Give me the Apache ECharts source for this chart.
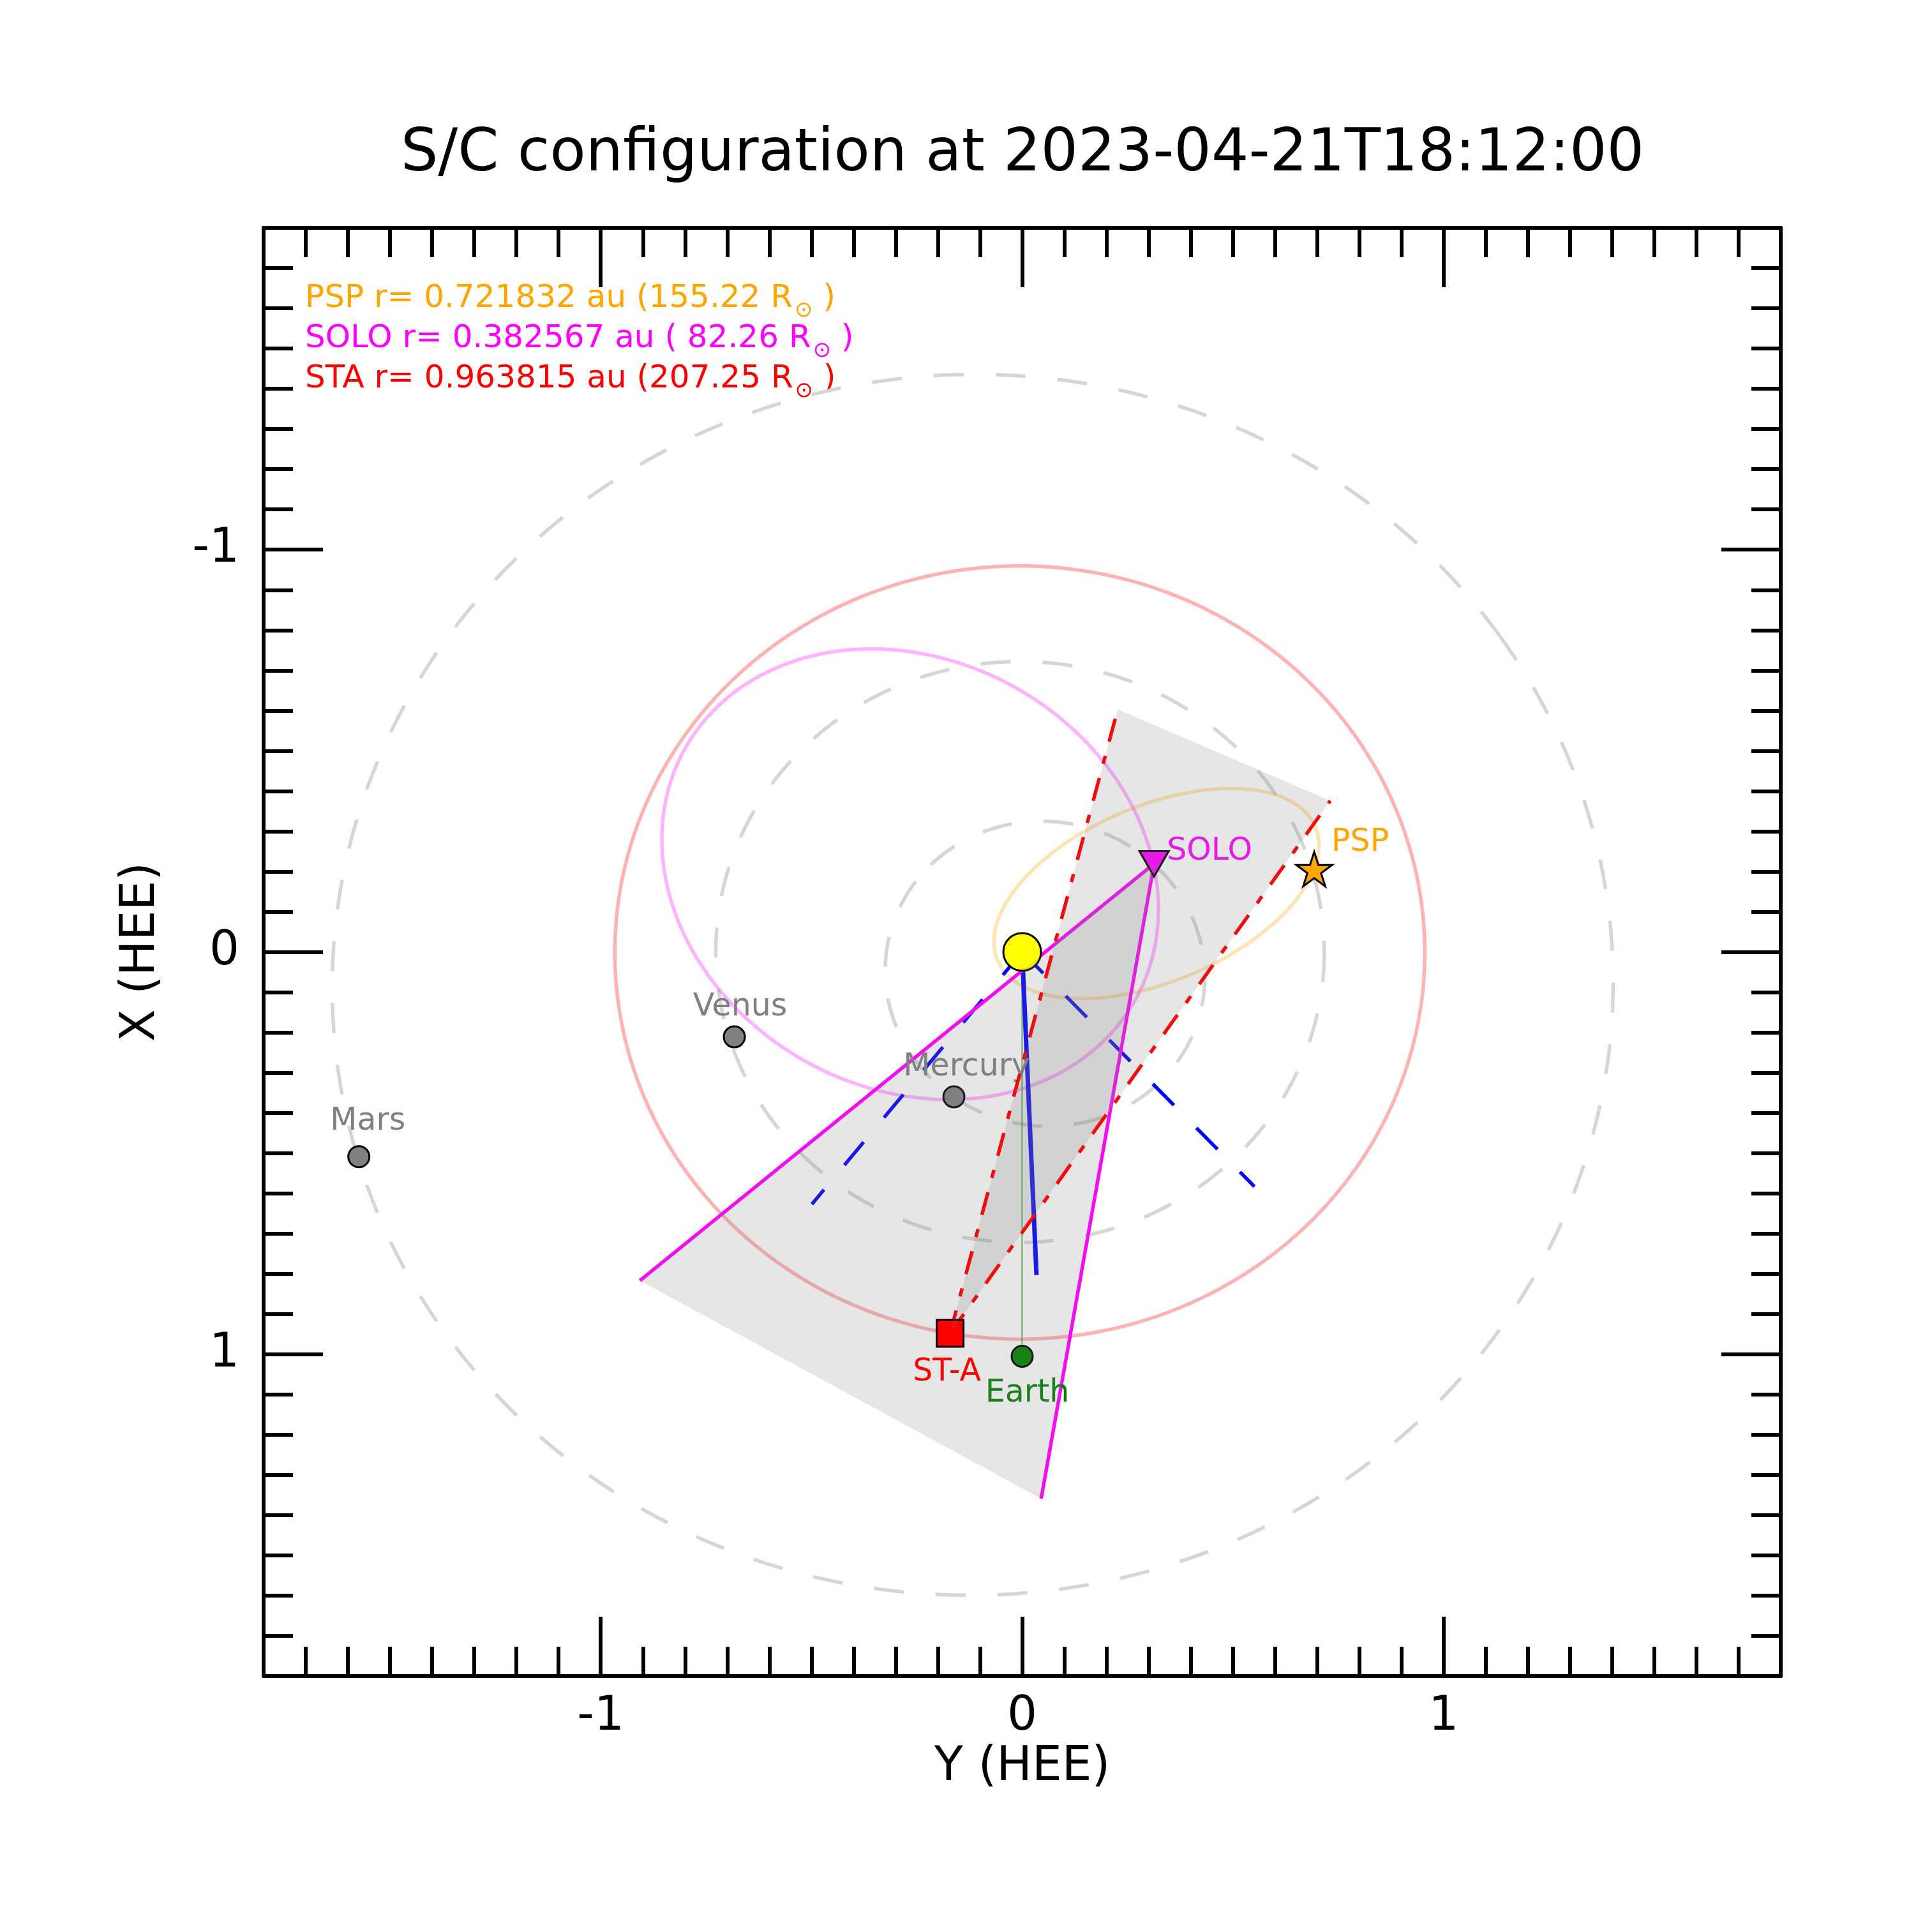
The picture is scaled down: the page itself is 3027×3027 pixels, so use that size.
<!DOCTYPE html>
<html>
<head>
<meta charset="utf-8">
<title>S/C configuration</title>
<script src="https://cdn.jsdelivr.net/npm/echarts@6/dist/echarts.min.js"></script>
<style>
  html, body { margin: 0; padding: 0; background: #fff; }
  #chart { width: 3027px; height: 3027px; }
</style>
</head>
<body>
<div id="chart"></div>
<script>
const FONT = 'DejaVu Sans';

// axes (HEE, au)
const AXIS_RANGE = [-1.8, 1.8];
const MAJOR_TICKS = [-1, 0, 1];
const MINOR_STEP = 0.1;

// orbits: semi-major axis (au), eccentricity, perihelion direction (deg in the Y-X plane)
const ORBIT_NAMES = ['Mercury', 'Venus', 'Mars', 'STA', 'SOLO', 'PSP'];
const ORBIT_A = [0.383, 0.722, 1.522, 0.961, 0.620, 0.412];
const ORBIT_E = [0.20, 0.007, 0.094, 0.006, 0.53, 0.85];
const ORBIT_PERI = [225, 0, -34.8, -15, 36, 155.5];

// bodies: Y (HEE) and X (HEE) in au
const BODY_NAMES = ['Sun', 'SOLO', 'PSP', 'ST-A', 'Earth', 'Venus', 'Mercury', 'Mars'];
const BODY_Y = [0, 0.313, 0.693, -0.171, 0, -0.683, -0.162, -1.574];
const BODY_X = [0, -0.219, -0.206, 0.948, 1.005, 0.211, 0.360, 0.509];

// field of view edges
const SOLO_FOV_Y = [-0.907, 0.045];
const SOLO_FOV_X = [0.817, 1.359];
const STA_FOV_Y = [0.227, 0.731];
const STA_FOV_X = [-0.603, -0.376];

// lines from the Sun
const SUN_LINE_END = [0.034, 0.803];
const SUN_DASH_Y = [-0.499, 0.551];
const SUN_DASH_X = [0.627, 0.583];

// info text
const INFO_NAMES = ['PSP', 'SOLO', 'STA'];
const INFO_AU = ['0.721832', '0.382567', '0.963815'];
const INFO_RSUN = ['155.22', ' 82.26', '207.25'];
const INFO_COLORS = ['#ffa500', '#ff00ff', '#ff0000'];

const LW = 5.5;
const DASH = [47, 50];
const DASH_DOT = [37, 23, 13, 23];

function pos(name) {
  const i = BODY_NAMES.indexOf(name);
  return [BODY_Y[i], BODY_X[i]];
}

function orbitPoints(a, e, periDeg) {
  const w = periDeg * Math.PI / 180;
  const b = a * Math.sqrt(1 - e * e);
  const cy = -a * e * Math.cos(w);
  const cx = -a * e * Math.sin(w);
  const pts = [];
  for (let i = 0; i <= 360; i += 1) {
    const t = i * Math.PI / 180;
    const u = a * Math.cos(t);
    const v = b * Math.sin(t);
    pts.push([cy + u * Math.cos(w) - v * Math.sin(w), cx + u * Math.sin(w) + v * Math.cos(w)]);
  }
  return pts;
}

const ORBIT_STYLE = {
  Mercury: { color: '#d6d6d6', type: DASH },
  Venus: { color: '#d6d6d6', type: DASH },
  Mars: { color: '#d6d6d6', type: DASH },
  STA: { color: 'rgba(255,0,0,0.3)', type: 'solid' },
  SOLO: { color: 'rgba(255,0,255,0.3)', type: 'solid' },
  PSP: { color: 'rgba(255,165,0,0.3)', type: 'solid' },
};

const STAR_PATH = 'path://M0,-1 L0.2245,-0.309 L0.951,-0.309 L0.363,0.118 L0.588,0.809 L0,0.382 L-0.588,0.809 L-0.363,0.118 L-0.951,-0.309 L-0.2245,-0.309 Z';

const BODY_STYLE = {
  Sun: { symbol: 'circle', size: 59, color: '#ffff00', z: 3 },
  SOLO: { symbol: 'triangle', size: [46, 40], rotate: 180, color: '#ff00ff', z: 3,
    label: { color: '#ff00ff', align: 'left', offset: [20, -19] } },
  PSP: { symbol: STAR_PATH, size: [56, 54], color: '#ffa500', z: 3,
    label: { color: '#ffa500', align: 'left', offset: [27, -41] } },
  'ST-A': { symbol: 'rect', size: 42, color: '#ff0000', z: 5,
    label: { color: '#ff0000', align: 'center', offset: [-5, 61] } },
  Earth: { symbol: 'circle', size: 33, color: '#008000', z: 3,
    label: { color: '#008000', align: 'center', offset: [8, 58] } },
  Venus: { symbol: 'circle', size: 33, color: '#808080', z: 3,
    label: { color: '#808080', align: 'center', offset: [9, -46] } },
  Mercury: { symbol: 'circle', size: 33, color: '#808080', z: 3,
    label: { color: '#808080', align: 'center', offset: [20, -46] } },
  Mars: { symbol: 'circle', size: 33, color: '#808080', z: 3,
    label: { color: '#808080', align: 'center', offset: [14, -55] } },
};

function segment(from, to, color, width, type, z) {
  return {
    type: 'line',
    data: [from, to],
    showSymbol: false,
    symbol: 'none',
    silent: true,
    z: z || 2,
    lineStyle: { color, width, type },
  };
}

function fovPolygon(apex, ys, xs, z) {
  return {
    type: 'custom',
    z,
    silent: true,
    data: [[apex[0], apex[1], ys[0], xs[0], ys[1], xs[1]]],
    encode: { x: [0, 2, 4], y: [1, 3, 5] },
    renderItem: (params, api) => {
      const points = [0, 2, 4].map((k) => api.coord([api.value(k), api.value(k + 1)]));
      return {
        type: 'polygon',
        shape: { points },
        style: { fill: 'rgba(128,128,128,0.2)' },
      };
    },
  };
}

function makeAxis(dim, position, major, withLabels) {
  const axis = {
    type: 'value',
    position,
    min: AXIS_RANGE[0],
    max: AXIS_RANGE[1],
    splitLine: { show: false },
    axisLine: { show: !major, onZero: false, lineStyle: { color: '#000', width: 6 } },
    axisTick: {
      show: true,
      inside: true,
      length: major ? 93 : 46,
      lineStyle: { color: '#000', width: 6 },
    },
    axisLabel: { show: false },
  };
  if (dim === 'y') axis.inverse = true;
  if (major) {
    axis.axisTick.customValues = MAJOR_TICKS;
  } else {
    axis.interval = MINOR_STEP;
  }
  if (withLabels) {
    axis.axisLabel = {
      show: true,
      customValues: MAJOR_TICKS,
      fontSize: 74,
      fontFamily: FONT,
      color: '#000',
      margin: dim === 'x' ? 28 : 38,
      formatter: (v) => String(v),
    };
    axis.name = dim === 'x' ? 'Y (HEE)' : 'X (HEE)';
    axis.nameLocation = 'middle';
    axis.nameGap = dim === 'x' ? 106 : 154;
    axis.nameTextStyle = { fontSize: 74, fontFamily: FONT, color: '#000' };
  }
  return axis;
}

function bodyScatter(names, z) {
  return {
    type: 'scatter',
    z,
    silent: true,
    data: names.map((name) => {
      const st = BODY_STYLE[name];
      const item = {
        name,
        value: pos(name),
        symbol: st.symbol,
        symbolSize: st.size,
        symbolRotate: st.rotate || 0,
        itemStyle: { color: st.color, borderColor: '#000', borderWidth: 3, opacity: 1 },
        label: { show: false },
      };
      if (st.label) {
        item.label = {
          show: true,
          position: 'inside',
          formatter: name,
          fontSize: 49,
          fontFamily: FONT,
          verticalAlign: 'middle',
          color: st.label.color,
          align: st.label.align,
          offset: st.label.offset,
        };
      }
      return item;
    }),
  };
}

function buildSeries() {
  const series = [];
  ORBIT_NAMES.forEach((name, i) => {
    const st = ORBIT_STYLE[name];
    series.push({
      type: 'line',
      name,
      data: orbitPoints(ORBIT_A[i], ORBIT_E[i], ORBIT_PERI[i]),
      showSymbol: false,
      symbol: 'none',
      silent: true,
      z: 1,
      lineStyle: { color: st.color, width: LW, type: st.type },
    });
  });

  const sun = pos('Sun');
  series.push(segment(sun, pos('Earth'), 'rgba(0,128,0,0.4)', 3, 'solid'));
  series.push(segment(sun, SUN_LINE_END, '#0000ff', 7, 'solid'));
  SUN_DASH_Y.forEach((y, i) => {
    series.push(segment(sun, [y, SUN_DASH_X[i]], '#0000ff', LW, DASH));
  });
  const solo = pos('SOLO');
  SOLO_FOV_Y.forEach((y, i) => {
    series.push(segment(solo, [y, SOLO_FOV_X[i]], '#ff00ff', LW, 'solid'));
  });
  const sta = pos('ST-A');
  STA_FOV_Y.forEach((y, i) => {
    series.push(segment(sta, [y, STA_FOV_X[i]], '#ff0000', LW, DASH_DOT, 5));
  });

  series.push(bodyScatter(BODY_NAMES.filter((n) => BODY_STYLE[n].z === 3), 3));
  series.push(fovPolygon(solo, SOLO_FOV_Y, SOLO_FOV_X, 4));
  series.push(bodyScatter(['ST-A'], 5));
  series.push(fovPolygon(sta, STA_FOV_Y, STA_FOV_X, 6));
  return series;
}

const measureCtx = document.createElement('canvas').getContext('2d');
function textWidth(str, size) {
  measureCtx.font = `${size}px "${FONT}"`;
  return measureCtx.measureText(str).width;
}

function buildGraphic() {
  const items = [{
    type: 'text',
    x: 1602,
    y: 243,
    style: {
      text: 'S/C configuration at 2023-04-21T18:12:00',
      fontSize: 92,
      fontFamily: FONT,
      fill: '#000',
      align: 'center',
      verticalAlign: 'middle',
    },
  }];
  const left = 478;
  INFO_NAMES.forEach((name, i) => {
    const color = INFO_COLORS[i];
    const baseline = 485 + i * 63;
    const head = `${name} r= ${INFO_AU[i]} au (${INFO_RSUN[i]} R`;
    const subX = left + textWidth(head, 50) + 3;
    const tailX = subX + textWidth('\u2299', 34);
    const common = { fontFamily: FONT, fill: color, align: 'left', verticalAlign: 'middle' };
    items.push({ type: 'text', x: left, y: baseline - 17, style: { ...common, text: head, fontSize: 50 } });
    items.push({ type: 'text', x: subX, y: baseline + 2, style: { ...common, text: '\u2299', fontSize: 34 } });
    items.push({ type: 'text', x: tailX, y: baseline - 17, style: { ...common, text: ' )', fontSize: 50 } });
  });
  return items;
}

const chart = echarts.init(document.getElementById('chart'), null, { renderer: 'canvas' });
chart.setOption({
  animation: false,
  backgroundColor: '#fff',
  grid: { left: 413, right: 237, top: 357, bottom: 401, containLabel: false },
  xAxis: [
    makeAxis('x', 'bottom', false, true),
    makeAxis('x', 'bottom', true, false),
    makeAxis('x', 'top', false, false),
    makeAxis('x', 'top', true, false),
  ],
  yAxis: [
    makeAxis('y', 'left', false, true),
    makeAxis('y', 'left', true, false),
    makeAxis('y', 'right', false, false),
    makeAxis('y', 'right', true, false),
  ],
  graphic: buildGraphic(),
  series: buildSeries(),
});
</script>
</body>
</html>
